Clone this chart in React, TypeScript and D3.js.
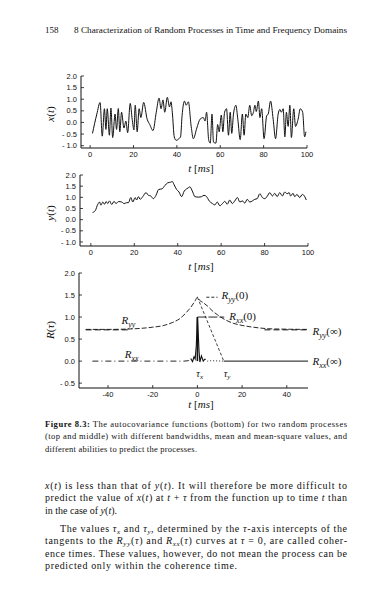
import React from 'react';
import * as d3 from 'd3';

// ---------- data ----------
const xTimes = [1.1,3.1,4.6,5.6,6.6,7.3,7.9,8.9,9.6,10.4,11.5,12.2,13.0,13.7,14.5,15.6,16.5,17.3,18.5,19.4,20.2,20.8,21.7,22.6,23.4,24.7,26.3,27.5,29.0,30.5,31.8,32.7,33.6,34.4,35.6,36.6,37.3,37.9,38.8,39.7,40.8,41.7,42.4,43.5,44.3,45.3,46.6,47.6,49.2,50.7,52.2,53.0,53.7,54.7,55.4,56.2,56.9,58.0,58.8,59.5,60.5,61.2,62.0,62.9,63.8,64.6,65.3,66.1,67.2,68.1,69.2,70.2,71.0,71.8,72.7,73.6,74.5,75.3,76.0,76.6,77.6,78.3,79.1,80.2,81.4,82.1,83.2,84.4,85.5,86.7,87.5,88.2,89.0,89.8,90.5,91.3,92.1,92.8,93.9,94.7,95.9,96.9,98.0,98.9,99.5];
const xValues = [-0.47,0.36,0.86,-0.59,0.59,-0.3,0.59,-0.55,0.62,-0.65,0.36,-0.3,0.6,-0.4,0.44,-0.24,0.06,-0.44,0.82,0.14,-0.32,0.74,-0.4,0.59,0.21,0.86,0.14,-0.09,-0.35,0.44,1.05,0.59,0.97,0.44,1.08,0.67,0.89,0.44,-0.62,-0.77,-0.71,-0.62,0.29,0.92,0.74,0.89,-0.17,-0.7,-0.24,0.14,0.21,0.06,0.44,-0.77,-0.89,0.36,-0.85,-0.89,-0.09,-0.4,0.32,-0.4,0.44,0.59,-0.55,0.44,-0.47,0.36,0.74,0.14,-0.74,0.36,-0.55,0.36,0.21,0.74,0.29,0.44,0.74,0.47,0.92,0.21,0.59,-0.7,0.29,0.36,0.92,0.14,-0.7,0.36,0.56,0.44,0.59,-0.62,0.44,-0.17,0.74,-0.65,0.59,-0.17,0.14,0.59,0.44,-0.62,-0.4];

const yTimes = [0.8,2.0,3.2,4.0,4.6,5.5,6.3,7.0,7.8,8.6,9.6,10.7,11.6,12.7,14.2,15.3,16.5,17.3,18.4,19.3,20.4,21.1,21.9,22.7,23.9,25.4,26.5,27.6,28.8,30.0,31.2,32.8,34.1,35.4,36.8,37.5,38.3,39.5,40.6,41.8,43.0,44.1,44.9,45.6,46.9,47.9,49.5,51.0,52.1,53.3,54.5,56.0,57.1,58.2,59.4,60.6,61.7,62.8,64.0,65.1,66.3,67.5,68.6,69.8,70.9,72.0,73.2,74.4,75.5,76.6,77.8,79.0,80.1,81.3,82.4,83.6,84.7,85.8,87.0,88.2,89.3,90.4,91.3,92.0,93.1,93.9,94.9,96.2,97.4,98.5,99.2];
const yValues = [0.32,0.4,0.69,0.79,0.65,0.79,0.69,0.81,0.72,0.84,0.68,0.82,0.72,0.81,0.79,0.72,0.76,0.76,0.99,0.79,0.99,0.88,1.03,0.91,1.03,1.21,1.09,1.06,0.94,1.09,1.35,1.38,1.53,1.65,1.68,1.71,1.57,1.35,1.24,1.03,1.28,1.38,1.43,1.47,1.24,1.03,1.01,1.03,1.09,1.03,0.84,0.72,0.66,0.79,0.62,0.72,0.82,0.69,0.88,0.72,0.84,0.99,0.79,0.84,0.74,0.91,0.79,0.84,0.91,0.94,1.16,0.99,0.94,1.06,1.21,1.06,1.18,1.03,1.21,1.06,1.24,1.16,1.21,1.06,1.18,1.03,1.13,0.99,1.13,1.03,0.88];

const ryyLags = [-50,-40,-30,-25,-20,-15,-11,-8,-5,-3,-1,0,1,2.5,4.5,6.5,9,12,16,20,25,32,40,49];
const ryyValues = [0.72,0.72,0.73,0.745,0.77,0.81,0.88,0.96,1.1,1.22,1.37,1.45,1.38,1.33,1.25,1.15,1.05,0.95,0.86,0.81,0.77,0.735,0.725,0.72];

const rxxLags = [-47,-6,-4,-3,-2.2,-1.5,-1,-0.5,0,0.4,0.7,1.1,1.8,2.6,3.4,4.5,6,12];
const rxxValues = [0,0,0.01,0.06,-0.01,0.1,0.05,0.35,1.0,0.6,0.25,-0.02,0.12,0,0.05,0,0.01,0];

const ryyInf = 0.71;
const ryyZero = 1.45;
const rxxZero = 1.0;
const tauY = 11.8;

const timeTicks = [0, 20, 40, 60, 80, 100];
const ampTicks = [-1, -0.5, 0, 0.5, 1, 1.5, 2];
const lagTicks = [-40, -20, 0, 20, 40];
const corrTicks = [-0.5, 0, 0.5, 1, 1.5, 2];

// ---------- styling ----------
const serif = "'Liberation Serif', 'DejaVu Serif', serif";
const sans = "'Liberation Sans', 'DejaVu Sans', sans-serif";
const ink = '#111';

const fmt = d3.format('.1f');

function Axes({ sx, sy, xt, yt, xFmt }: any) {
  const [x0, x1] = sx.range();
  const [yb, ytop] = sy.range();
  return (
    <g stroke={ink} fill="none">
      <line x1={x0} y1={ytop} x2={x0} y2={yb} strokeWidth={1} />
      <line x1={x0} y1={yb} x2={x1} y2={yb} strokeWidth={1} />
      {yt.map((v: number) => (
        <g key={'y' + v}>
          <line x1={x0} x2={x0 + 3} y1={sy(v)} y2={sy(v)} strokeWidth={0.8} />
          <text x={x0 - 4} y={sy(v)} dy="0.35em" textAnchor="end" fontFamily={sans} fontSize={7.5} fill={ink} stroke="none">
            {v < 0 ? '- ' + fmt(-v) : fmt(v)}
          </text>
        </g>
      ))}
      {xt.map((v: number) => (
        <g key={'x' + v}>
          <line x1={sx(v)} x2={sx(v)} y1={yb} y2={yb - 3} strokeWidth={0.8} />
          <text x={sx(v)} y={yb + 6.5} dy="0.35em" textAnchor="middle" fontFamily={sans} fontSize={7.5} fill={ink} stroke="none">
            {xFmt(v)}
          </text>
        </g>
      ))}
    </g>
  );
}

function XTitle({ x, y }: any) {
  return (
    <text x={x} y={y} dy="0.35em" textAnchor="middle" fontFamily={serif} fontStyle="italic" fontSize={11} fill={ink}>
      t <tspan fontStyle="normal">[</tspan>ms<tspan fontStyle="normal">]</tspan>
    </text>
  );
}

function YTitle({ x, y, children }: any) {
  return (
    <text transform={`translate(${x},${y}) rotate(-90)`} dy="0.35em" textAnchor="middle" fontFamily={serif} fontSize={11} fill={ink}>
      {children}
    </text>
  );
}

function RLabel({ x, y, sub, arg }: any) {
  return (
    <text x={x} y={y} dy="0.35em" fontFamily={serif} fontStyle="italic" fontSize={11} fill={ink}>
      R<tspan dy={3} fontSize={8}>{sub}</tspan>
      <tspan dy={-3} fontStyle="normal">{arg}</tspan>
    </text>
  );
}

export default function App() {
  // chart 1: x(t)
  const sx1 = d3.scaleLinear().domain([-4.2, 100]).range([81, 307]);
  const sy1 = d3.scaleLinear().domain([-1.1, 2.0]).range([148, 76]);
  // chart 2: y(t)
  const sx2 = d3.scaleLinear().domain([-5, 100]).range([80, 308]);
  const sy2 = d3.scaleLinear().domain([-1.18, 2.0]).range([246, 175]);
  // chart 3: R(tau)
  const sx3 = d3.scaleLinear().domain([-53, 49.5]).range([79, 308]);
  const sy3 = d3.scaleLinear().domain([-0.61, 2.0]).range([388, 273]);

  const line1 = d3.line<number>().x((_, i) => sx1(xTimes[i])).y((d) => sy1(d)).curve(d3.curveMonotoneX);
  const line2 = d3.line<number>().x((_, i) => sx2(yTimes[i])).y((d) => sy2(d)).curve(d3.curveMonotoneX);
  const lineYY = d3.line<number>().x((_, i) => sx3(ryyLags[i])).y((d) => sy3(d)).curve(d3.curveMonotoneX);
  const lineXX = d3.line<[number, number]>().x((d) => sx3(d[0])).y((d) => sy3(d[1]));

  const rxxPts: [number, number][] = rxxLags.map((l, i) => [l, rxxValues[i]]);
  const rxxFarLeft = rxxPts.filter((d) => d[0] <= -3);
  const rxxCore = rxxPts.filter((d) => d[0] >= -3 && d[0] <= 3.4);
  const rxxRight = rxxPts.filter((d) => d[0] >= 3.4);

  const intFmt = (v: number) => (v < 0 ? '-' + Math.abs(v) : String(v));

  const bodyX = 45;
  const bodyW = 302;

  return (
    <svg width={391} height={592} style={{ position: 'absolute', left: 0, top: 0, background: '#fff' }}>
      <rect width={391} height={592} fill="#fff" />
      {/* running head */}
      <text x={45} y={30} dy="0.35em" fontFamily={serif} fontSize={9} fill={ink}>158</text>
      <text x={74} y={30} dy="0.35em" fontFamily={serif} fontSize={9} fill={ink} textLength={273} lengthAdjust="spacingAndGlyphs">
        8 Characterization of Random Processes in Time and Frequency Domains
      </text>

      {/* chart 1 */}
      <Axes sx={sx1} sy={sy1} xt={timeTicks} yt={ampTicks} xFmt={intFmt} />
      <path d={line1(xValues) || ''} fill="none" stroke={ink} strokeWidth={1} />
      <XTitle x={201} y={168} />
      <YTitle x={50} y={114}>
        <tspan fontStyle="italic">x</tspan>(<tspan fontStyle="italic">t</tspan>)
      </YTitle>

      {/* chart 2 */}
      <Axes sx={sx2} sy={sy2} xt={timeTicks} yt={ampTicks} xFmt={intFmt} />
      <path d={line2(yValues) || ''} fill="none" stroke={ink} strokeWidth={1} />
      <XTitle x={201} y={266} />
      <YTitle x={50} y={213}>
        <tspan fontStyle="italic">y</tspan>(<tspan fontStyle="italic">t</tspan>)
      </YTitle>

      {/* chart 3 */}
      <Axes sx={sx3} sy={sy3} xt={lagTicks} yt={corrTicks} xFmt={intFmt} />
      {/* asymptotes */}
      <line x1={sx3(-50)} x2={sx3(-31)} y1={sy3(ryyInf)} y2={sy3(ryyInf)} stroke={ink} strokeWidth={1} strokeDasharray="6,3" />
      <line x1={sx3(30)} x2={sx3(49)} y1={sy3(ryyInf)} y2={sy3(ryyInf)} stroke={ink} strokeWidth={1} strokeDasharray="6,3" />
      <line x1={sx3(tauY)} x2={sx3(49.5)} y1={sy3(0)} y2={sy3(0)} stroke={ink} strokeWidth={1} />
      {/* R_yy curve */}
      <path d={lineYY(ryyValues) || ''} fill="none" stroke={ink} strokeWidth={0.9} strokeDasharray="5,2" />
      {/* R_xx curve */}
      <path d={lineXX(rxxFarLeft) || ''} fill="none" stroke={ink} strokeWidth={0.9} strokeDasharray="6,3,1,3" />
      <path d={lineXX(rxxCore) || ''} fill="none" stroke={ink} strokeWidth={1.1} />
      <path d={lineXX(rxxRight) || ''} fill="none" stroke={ink} strokeWidth={0.9} strokeDasharray="1,2" />
      <line x1={sx3(0)} x2={sx3(0)} y1={sy3(rxxZero)} y2={sy3(0)} stroke={ink} strokeWidth={1.6} />
      {/* tangent and pointers */}
      <line x1={sx3(0)} x2={sx3(tauY)} y1={sy3(ryyZero)} y2={sy3(0)} stroke={ink} strokeWidth={0.8} strokeDasharray="3,2" />
      <line x1={sx3(0)} x2={sx3(12)} y1={sy3(rxxZero)} y2={sy3(rxxZero)} stroke={ink} strokeWidth={0.9} strokeDasharray="9,2" />
      <line x1={sx3(4)} x2={sx3(9)} y1={sy3(ryyZero)} y2={sy3(ryyZero)} stroke={ink} strokeWidth={0.9} strokeDasharray="3,2" />

      <RLabel x={sx3(10.8)} y={sy3(1.5)} sub="yy" arg="(0)" />
      <RLabel x={sx3(14.3)} y={sy3(1.02)} sub="xx" arg="(0)" />
      <RLabel x={sx3(51.5)} y={sy3(0.69)} sub="yy" arg="(∞)" />
      <RLabel x={sx3(51.5)} y={sy3(-0.01)} sub="xx" arg="(∞)" />
      <RLabel x={sx3(-34)} y={sy3(0.94)} sub="yy" arg="" />
      <RLabel x={sx3(-32.5)} y={sy3(0.15)} sub="xx" arg="" />
      <text x={sx3(-0.5)} y={sy3(-0.27)} dy="0.35em" fontFamily={serif} fontStyle="italic" fontSize={10} fill={ink}>
        τ<tspan dy={2} fontSize={7}>x</tspan>
      </text>
      <text x={sx3(11.8)} y={sy3(-0.27)} dy="0.35em" fontFamily={serif} fontStyle="italic" fontSize={10} fill={ink}>
        τ<tspan dy={2} fontSize={7}>y</tspan>
      </text>
      <XTitle x={201} y={404} />
      <YTitle x={50} y={330}>
        <tspan fontStyle="italic">R</tspan>(<tspan fontStyle="italic">τ</tspan>)
      </YTitle>

      {/* caption */}
      <g fontFamily={serif} fontSize={8.5} fill={ink}>
        <text x={bodyX} y={424} dy="0.35em" textLength={bodyW} lengthAdjust="spacing">
          <tspan fontWeight="bold">Figure 8.3:</tspan> The autocovariance functions (bottom) for two random processes
        </text>
        <text x={bodyX} y={436.5} dy="0.35em" textLength={bodyW} lengthAdjust="spacing">
          (top and middle) with different bandwidths, mean and mean-square values, and
        </text>
        <text x={bodyX} y={449} dy="0.35em" textLength={152} lengthAdjust="spacing">
          different abilities to predict the processes.
        </text>
      </g>

      {/* body text */}
      <g fontFamily={serif} fontSize={10} fill={ink}>
        <text x={bodyX} y={485} dy="0.35em" textLength={bodyW} lengthAdjust="spacing">
          <tspan fontStyle="italic">x</tspan>(<tspan fontStyle="italic">t</tspan>) is less than that of <tspan fontStyle="italic">y</tspan>(<tspan fontStyle="italic">t</tspan>). It will therefore be more difficult to
        </text>
        <text x={bodyX} y={497.5} dy="0.35em" textLength={bodyW} lengthAdjust="spacing">
          predict the value of <tspan fontStyle="italic">x</tspan>(<tspan fontStyle="italic">t</tspan>) at <tspan fontStyle="italic">t</tspan> + <tspan fontStyle="italic">τ</tspan> from the function up to time <tspan fontStyle="italic">t</tspan> than
        </text>
        <text x={bodyX} y={510} dy="0.35em" textLength={72} lengthAdjust="spacing">
          in the case of <tspan fontStyle="italic">y</tspan>(<tspan fontStyle="italic">t</tspan>).
        </text>
        <text x={60} y={528} dy="0.35em" textLength={287} lengthAdjust="spacing">
          The values <tspan fontStyle="italic">τ</tspan><tspan fontSize={7} dy={2} fontStyle="italic">x</tspan><tspan dy={-2}> and </tspan><tspan fontStyle="italic">τ</tspan><tspan fontSize={7} dy={2} fontStyle="italic">y</tspan><tspan dy={-2}>, determined by the </tspan><tspan fontStyle="italic">τ</tspan>-axis intercepts of the
        </text>
        <text x={bodyX} y={540.5} dy="0.35em" textLength={bodyW} lengthAdjust="spacing">
          tangents to the <tspan fontStyle="italic">R</tspan><tspan fontSize={7} dy={2} fontStyle="italic">yy</tspan><tspan dy={-2}>(</tspan><tspan fontStyle="italic">τ</tspan>) and <tspan fontStyle="italic">R</tspan><tspan fontSize={7} dy={2} fontStyle="italic">xx</tspan><tspan dy={-2}>(</tspan><tspan fontStyle="italic">τ</tspan>) curves at <tspan fontStyle="italic">τ</tspan> = 0, are called coher-
        </text>
        <text x={bodyX} y={553} dy="0.35em" textLength={bodyW} lengthAdjust="spacing">
          ence times. These values, however, do not mean the process can be
        </text>
        <text x={bodyX} y={565.5} dy="0.35em" textLength={192} lengthAdjust="spacing">
          predicted only within the coherence time.
        </text>
      </g>
    </svg>
  );
}
